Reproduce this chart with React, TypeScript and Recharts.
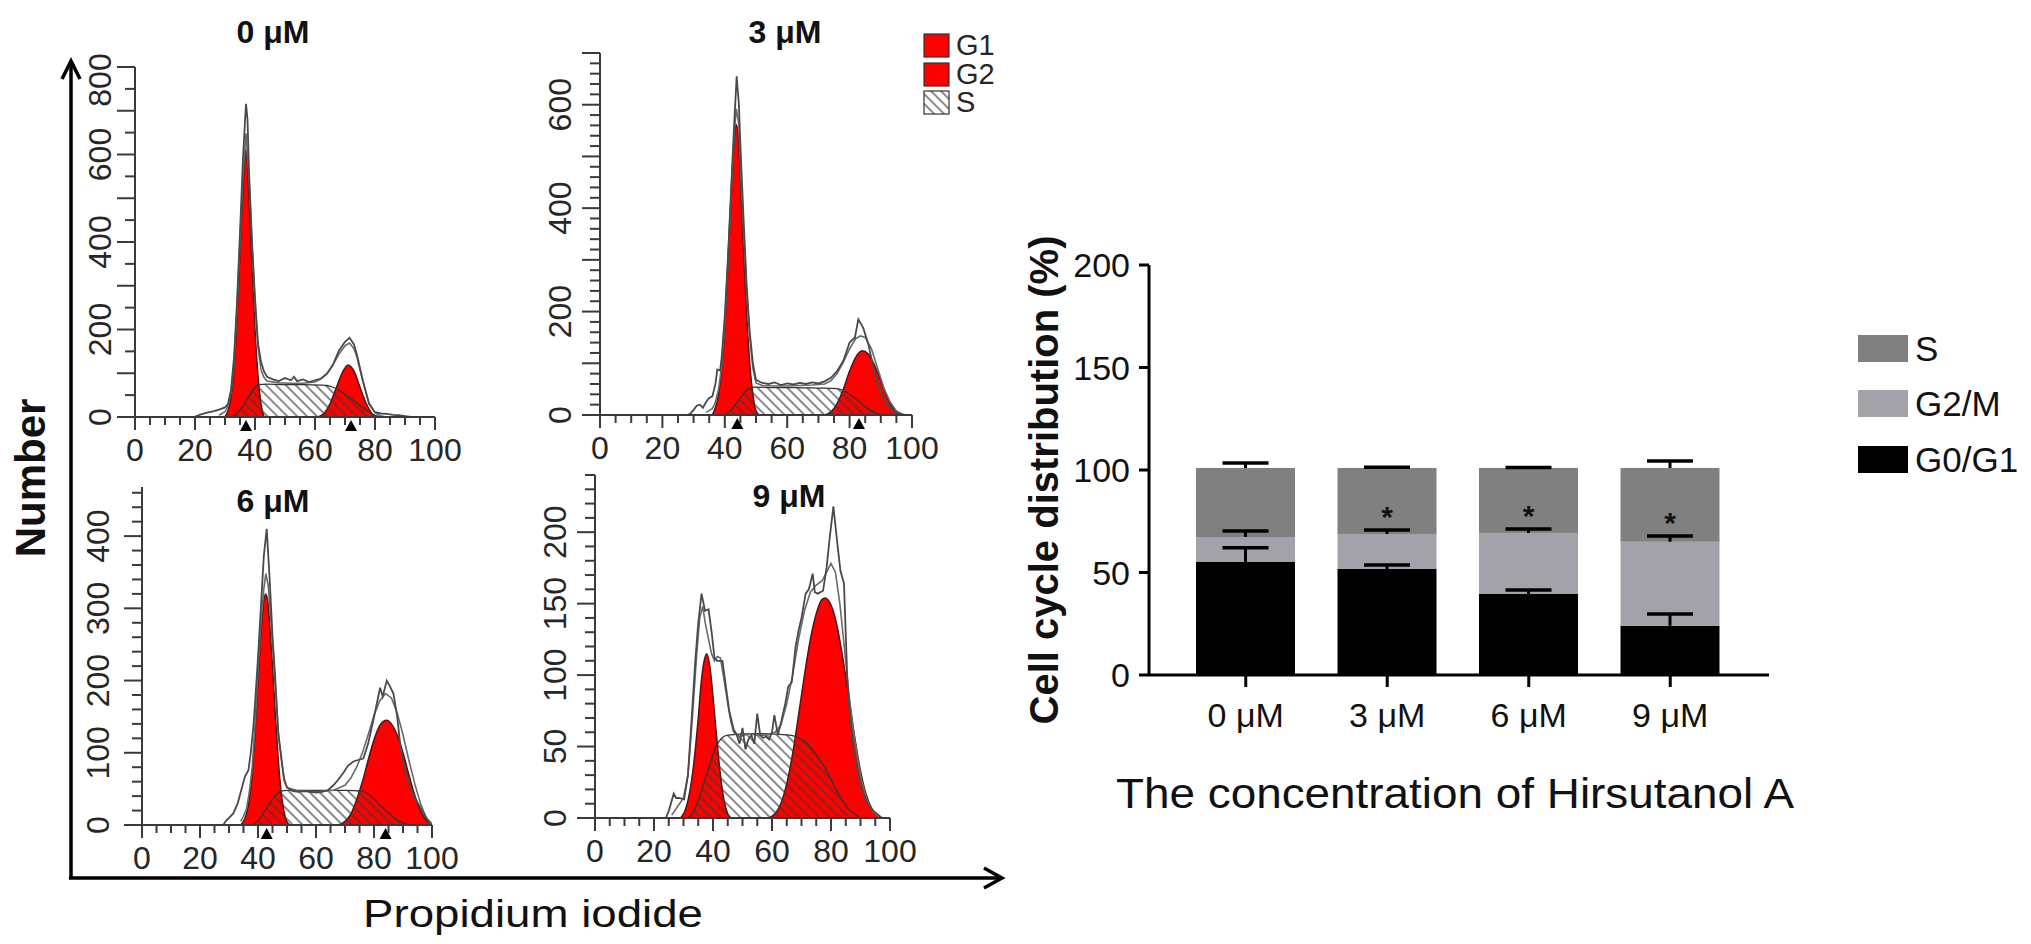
import React from 'react';
import { ComposedChart, Area, Line, XAxis, YAxis, ReferenceDot, Legend, BarChart, Bar } from 'recharts';

type Pt = [number, number];

const FONT = '"Liberation Sans", Arial, Helvetica, sans-serif';
const RED = '#ff0000';
const RED_EDGE = '#5a1010';
const AX = '#3a3a3a';
const TXT = '#262626';

// ---------- histograms (PI fluorescence) ----------
const doses = ['0 μM', '3 μM', '6 μM', '9 μM'];
const histXTicks = [0, 5, 10, 15, 20, 25, 30, 35, 40, 45, 50, 55, 60, 65, 70, 75, 80, 85, 90, 95, 100];
const histXLabels = [0, 20, 40, 60, 80, 100];
const phaseNames = ['G1', 'G2', 'S'];

const yLabels0 = [0, 200, 400, 600, 800];
const yLabels3 = [0, 200, 400, 600];
const yLabels6 = [0, 100, 200, 300, 400];
const yLabels9 = [0, 50, 100, 150, 200];

// 0 uM
const raw0: Pt[] = [[20, 1], [22, 6], [24, 10], [26, 13], [28, 17], [30, 22], [31, 30], [32, 62], [33, 135], [34, 262], [35, 422], [36, 592], [37, 716], [37.5, 680], [38, 562], [39, 402], [40, 272], [41, 168], [42, 126], [43, 104], [44, 92], [46, 86], [48, 82], [50, 89], [52, 84], [53, 92], [54, 82], [56, 86], [58, 80], [60, 84], [62, 88], [64, 99], [66, 120], [68, 152], [70, 172], [71.5, 181], [73, 166], [74, 142], [76, 82], [78, 30], [80, 11], [82, 8], [84, 7], [86, 5], [88, 4], [90, 2], [92, 0]];
const fit0: Pt[] = [[28, 4], [30, 12], [31, 25], [32, 56], [33, 122], [34, 246], [35, 402], [36, 552], [37, 648], [38, 545], [39, 392], [40, 262], [41, 160], [42, 108], [43, 90], [44, 82], [48, 78], [52, 77], [56, 77], [60, 80], [62, 87], [64, 99], [66, 119], [68, 144], [70, 163], [71.5, 169], [73, 156], [74, 136], [76, 80], [78, 32], [80, 10], [82, 2], [84, 0]];
const g1_0: Pt[] = [[30, 0], [31, 15], [32, 45], [33, 110], [34, 230], [35, 380], [36, 520], [37, 612], [38, 500], [39, 340], [40, 200], [41, 95], [42, 30], [43, 0]];
const g2_0: Pt[] = [[61, 0], [63, 8], [65, 30], [67, 65], [69, 100], [71, 119], [73, 105], [75, 68], [77, 32], [79, 8], [81, 0]];
const s0: Pt[] = [[32, 0], [34, 8], [36, 25], [38, 48], [40, 68], [41, 74], [44, 75], [50, 74], [56, 74], [62, 73], [64, 72], [66, 68], [68, 61], [70, 52], [72, 42], [74, 32], [76, 21], [78, 11], [80, 4], [82, 0]];
const peaks0 = [37, 72];

// 3 uM
const raw3: Pt[] = [[28, 0], [29, 3], [30, 10], [31, 18], [32, 20], [33, 14], [34, 25], [35, 33], [36, 36], [37, 60], [37.6, 88], [38.5, 86], [39, 112], [40, 192], [41, 302], [42, 432], [43, 562], [43.8, 655], [44.5, 602], [45, 522], [46, 382], [47, 252], [48, 160], [49, 100], [50, 68], [52, 62], [54, 60], [56, 63], [58, 58], [60, 61], [62, 59], [64, 62], [66, 60], [68, 63], [70, 61], [72, 65], [74, 72], [76, 85], [78, 105], [80, 140], [81.7, 150], [82.8, 185], [84.4, 168], [86, 137], [87.6, 92], [89.7, 48], [91.9, 22], [94.6, 6], [97, 1], [98, 0]];
const fit3: Pt[] = [[34, 5], [36, 12], [37, 25], [38, 50], [39, 95], [40, 178], [41, 298], [42, 428], [43, 545], [43.7, 592], [44.5, 562], [45, 482], [46, 357], [47, 237], [48, 150], [49, 90], [50, 62], [52, 57], [56, 56], [60, 56], [64, 57], [68, 58], [72, 60], [74, 66], [76, 80], [78, 102], [80, 128], [82, 148], [83.5, 153], [85, 150], [87, 128], [89, 90], [91, 52], [93, 25], [95, 8], [97, 1], [98, 0]];
const g1_3: Pt[] = [[36, 0], [37, 15], [38, 40], [39, 90], [40, 170], [41, 290], [42, 420], [43, 530], [43.6, 562], [44.3, 540], [45, 450], [46, 320], [47, 195], [48, 100], [49, 40], [50, 8], [51, 0]];
const g2_3: Pt[] = [[72, 0], [74, 6], [76, 22], [78, 50], [80, 85], [82, 112], [84, 124], [86, 118], [88, 96], [90, 66], [92, 35], [94, 12], [96, 0]];
const s3: Pt[] = [[40, 0], [42, 9], [44, 25], [46, 41], [48, 52], [50, 54], [56, 53], [62, 53], [70, 52], [76, 51], [78, 47], [80, 40], [82, 31], [84, 21], [86, 12], [88, 5], [90, 1], [91, 0]];
const peaks3 = [44, 83];

// 6 uM
const raw6: Pt[] = [[28, 0], [29, 6], [30, 10], [31.5, 16], [33, 30], [34, 45], [35.5, 67], [36.7, 76], [37.5, 100], [38.4, 136], [39, 170], [40, 232], [41, 302], [42, 372], [43, 410], [44, 342], [45, 262], [46, 200], [47, 125], [48, 95], [49, 62], [50, 52], [52, 47], [54, 46], [56, 47], [58, 46], [60, 45], [62, 46], [64, 48], [66, 55], [67.5, 62], [69.4, 72], [71, 82], [72.9, 88], [74.5, 90], [76.3, 92], [78, 113], [80.3, 155], [82.1, 190], [83, 178], [84.4, 200], [85.5, 192], [86.7, 182], [88, 150], [89, 113], [90.5, 80], [91.8, 62], [94, 38], [95.9, 25], [98, 10], [99.3, 2], [100, 0]];
const fit6: Pt[] = [[34, 5], [35, 12], [36, 22], [37, 45], [38, 80], [39, 140], [40, 212], [41, 278], [42, 327], [42.7, 348], [43.5, 332], [44, 310], [45, 250], [46, 190], [47, 130], [48, 92], [49, 65], [50, 52], [54, 47], [60, 46], [66, 48], [70, 55], [72, 65], [74, 80], [76, 100], [78, 125], [80, 152], [82, 172], [84, 182], [86, 176], [88, 155], [90, 125], [92, 90], [94, 58], [96, 30], [98, 10], [100, 2]];
const g1_6: Pt[] = [[34, 0], [35, 5], [36, 15], [37, 35], [38, 70], [39, 130], [40, 200], [41, 265], [42, 310], [42.6, 320], [43.3, 312], [44, 280], [45, 220], [46, 150], [47, 90], [48, 45], [49, 18], [50, 4], [51, 0]];
const g2_6: Pt[] = [[68, 0], [70, 5], [72, 15], [74, 35], [76, 60], [78, 90], [80, 118], [82, 138], [84.4, 145], [86, 140], [88, 125], [90, 100], [92, 70], [94, 42], [96, 20], [98, 7], [100, 0]];
const s6: Pt[] = [[38, 0], [40, 6], [42, 17], [44, 30], [46, 41], [48, 47], [50, 48], [60, 48], [70, 48], [76, 47], [78, 43], [80, 36], [82, 28], [84, 20], [86, 13], [88, 7], [90, 3], [92, 0]];
const peaks6 = [43, 84];

// 9 uM
const raw9: Pt[] = [[24, 0], [25, 5], [26.7, 17], [27.5, 14], [28.5, 14], [30.2, 13], [31.5, 30], [32.6, 64], [34, 110], [34.9, 134], [36.1, 157], [37.3, 145], [38.5, 146], [39.6, 129], [40.5, 112], [41.4, 110], [43.2, 110], [44.5, 90], [45.5, 75], [47, 62], [47.9, 59], [49, 52], [50, 63], [51, 48], [52, 55], [53, 58], [54, 52], [55, 73], [56, 58], [57, 56], [58, 57], [59, 55], [60, 60], [60.8, 72], [62, 58], [63.2, 68], [64.5, 80], [65.5, 92], [66.7, 95], [68, 120], [69, 131], [70, 140], [71.4, 157], [72.5, 160], [73.8, 171], [74.5, 158], [75.5, 157], [77.3, 159], [78.5, 175], [79.5, 195], [80.8, 218], [82, 195], [83.2, 173], [84.4, 164], [85.5, 99], [86.5, 70], [87.9, 45], [90.2, 22], [92, 12], [93.8, 6], [95.5, 3], [97.3, 0]];
const fit9: Pt[] = [[26, 2], [28, 8], [30, 14], [31.5, 30], [33, 70], [34.5, 115], [35.5, 140], [36.5, 148], [37.5, 135], [38.5, 125], [39.5, 115], [40.5, 110], [41.5, 113], [42.5, 112], [43.5, 100], [45, 80], [46, 68], [47, 60], [49, 57], [52, 59], [55, 58], [58, 58], [61, 60], [63, 65], [65, 80], [67, 100], [69, 125], [71, 145], [73, 158], [75, 163], [77, 166], [78.5, 172], [80, 178], [81.5, 172], [83, 150], [84.5, 120], [86, 88], [88, 55], [90, 30], [92, 14], [94, 5], [96, 1], [97, 0]];
const g1_9: Pt[] = [[29, 0], [31, 8], [33, 30], [35, 70], [36, 95], [37, 110], [37.9, 115], [39, 105], [40, 85], [41, 62], [42, 40], [43, 22], [44, 10], [45, 3], [46, 0]];
const g2_9: Pt[] = [[59, 0], [61, 3], [63, 10], [65, 24], [67, 45], [69, 72], [71, 100], [73, 125], [75, 143], [77, 153], [78, 154], [80, 149], [82, 135], [84, 112], [86, 85], [88, 57], [90, 33], [92, 16], [94, 6], [96, 1], [97, 0]];
const s9: Pt[] = [[31, 0], [33, 3], [35, 12], [37, 25], [39, 38], [41, 50], [43, 56], [45, 58], [55, 59], [66, 58], [68, 57], [70, 55], [72, 52], [74, 47], [76, 41], [78, 35], [80, 27], [82, 19], [84, 12], [86, 6], [88, 3], [90, 0]];
const peaks9: number[] = [];

// ---------- stacked bar chart ----------
const concs = ['0 μM', '3 μM', '6 μM', '9 μM'];
const stageNames = ['G0/G1', 'G2/M', 'S'];
const stageColors = ['#000000', '#a2a2a8', '#808080'];
const g01 = [55.1, 51.7, 39.5, 24.0];
const g2m = [12.2, 17.1, 29.8, 41.0];
const sPhase = [33.7, 32.2, 31.7, 36.0];
const g01Err = [7.0, 1.9, 2.0, 5.8];
const g2mErr = [2.9, 1.9, 1.9, 2.8];
const sErr = [2.4, 0.3, 0.2, 3.4];
const sig = ['', '*', '*', '*'];
const barYTicks = [0, 50, 100, 150, 200];

interface Panel {
  title: string;
  plotLeft: number;
  plotTop: number;
  plotW: number;
  plotH: number;
  padRight: number;
  yMax: number;
  yStep: number;
  yLong: number;
  yLabels: number[];
  labelGap: number;
  titleX: number;
  titleY: number;
  series: Record<string, Pt[]>;
  peaks: number[];
  legend: boolean;
}

const panels: Panel[] = [
  { title: doses[0], plotLeft: 135, plotTop: 67, plotW: 300, plotH: 350, padRight: 30, yMax: 800, yStep: 50, yLong: 100, yLabels: yLabels0, labelGap: 35, titleX: 273, titleY: 43, series: { raw: raw0, fit: fit0, g1: g1_0, g2: g2_0, s: s0 }, peaks: peaks0, legend: false },
  { title: doses[1], plotLeft: 600, plotTop: 53, plotW: 312, plotH: 362, padRight: 95, yMax: 700, yStep: 20, yLong: 100, yLabels: yLabels3, labelGap: 40, titleX: 785, titleY: 43, series: { raw: raw3, fit: fit3, g1: g1_3, g2: g2_3, s: s3 }, peaks: peaks3, legend: true },
  { title: doses[2], plotLeft: 142, plotTop: 487, plotW: 290, plotH: 338, padRight: 30, yMax: 468, yStep: 20, yLong: 100, yLabels: yLabels6, labelGap: 44, titleX: 273, titleY: 512, series: { raw: raw6, fit: fit6, g1: g1_6, g2: g2_6, s: s6 }, peaks: peaks6, legend: false },
  { title: doses[3], plotLeft: 595, plotTop: 475, plotW: 295, plotH: 343, padRight: 30, yMax: 240, yStep: 10, yLong: 50, yLabels: yLabels9, labelGap: 40, titleX: 789, titleY: 507, series: { raw: raw9, fit: fit9, g1: g1_9, g2: g2_9, s: s9 }, peaks: peaks9, legend: false },
];

function mergeSeries(series: Record<string, Pt[]>) {
  const map = new Map<number, Record<string, number>>();
  Object.entries(series).forEach(([key, pts]) =>
    pts.forEach(([x, v]) => {
      const row = map.get(x) ?? { x };
      row[key] = v;
      map.set(x, row);
    })
  );
  return [...map.values()].sort((a, b) => a.x - b.x);
}

function XTick(props: any) {
  const { x, y, payload } = props;
  const v = payload.value;
  const major = histXLabels.includes(v);
  return (
    <g>
      <line x1={x} x2={x} y1={y} y2={y + (major ? 13 : 8)} stroke={AX} strokeWidth={2} />
      {major && (
        <text x={x} y={y + 44} textAnchor="middle" fontSize={32} fill={TXT} fontFamily={FONT}>
          {v}
        </text>
      )}
    </g>
  );
}

function YTick(props: any) {
  const { x, y, payload, p } = props;
  const v = payload.value;
  const isLong = v % p.yLong === 0;
  const show = p.yLabels.includes(v);
  const cy = v === p.yMax ? y + 13 : y;
  const bx = x - p.labelGap + 11;
  return (
    <g>
      <line x1={x} x2={x - (isLong ? 18 : 10)} y1={y} y2={y} stroke={AX} strokeWidth={2} />
      {show && (
        <text x={bx} y={cy} transform={`rotate(-90 ${bx} ${cy})`} textAnchor="middle" fontSize={32} fill={TXT} fontFamily={FONT}>
          {v}
        </text>
      )}
    </g>
  );
}

function PhaseLegend({ hatch }: { hatch: string }) {
  const rows = [8, 37, 65];
  return (
    <svg width={90} height={100}>
      {phaseNames.map((name, i) => (
        <g key={name}>
          <rect x={1} y={rows[i] + 1} width={25} height={23} fill={name === 'S' ? `url(#${hatch})` : RED} stroke="#333" strokeWidth={1.2} />
          <text x={33} y={rows[i] + 22} fontSize={29} fill={TXT} fontFamily={FONT}>
            {name}
          </text>
        </g>
      ))}
    </svg>
  );
}

function HistPanel({ p, id }: { p: Panel; id: string }) {
  const rows = mergeSeries(p.series);
  const yTicks = Array.from({ length: Math.floor(p.yMax / p.yStep) + 1 }, (_, i) => i * p.yStep);
  const W = p.plotW + 70 + p.padRight;
  const H = p.plotH + 90;
  return (
    <div style={{ position: 'absolute', left: p.plotLeft - 70, top: p.plotTop - 30 }}>
      <ComposedChart width={W} height={H} data={rows} margin={{ top: 30, right: p.padRight, left: 0, bottom: 0 }}>
        <defs>
          <pattern id={id} patternUnits="userSpaceOnUse" width={7} height={7} patternTransform="rotate(-45)">
            <line x1={1} y1={0} x2={1} y2={7} stroke="#3a3a3a" strokeWidth={1.2} />
          </pattern>
        </defs>
        <XAxis
          type="number"
          dataKey="x"
          domain={[0, 100]}
          ticks={histXTicks}
          interval={0}
          height={60}
          tickSize={0}
          tickMargin={0}
          tickLine={false}
          axisLine={{ stroke: AX, strokeWidth: 2 }}
          tick={(t: any) => <XTick {...t} />}
          allowDataOverflow
        />
        <YAxis
          type="number"
          domain={[0, p.yMax]}
          ticks={yTicks}
          interval={0}
          width={70}
          tickSize={0}
          tickMargin={0}
          tickLine={false}
          axisLine={{ stroke: AX, strokeWidth: 2 }}
          tick={(t: any) => <YTick {...t} p={p} />}
          allowDataOverflow
        />
        <Area dataKey="g1" name="G1" type="monotone" connectNulls fill={RED} fillOpacity={1} stroke={RED_EDGE} strokeWidth={1.5} activeDot={false} isAnimationActive={false} />
        <Area dataKey="g2" name="G2" type="monotone" connectNulls fill={RED} fillOpacity={1} stroke={RED_EDGE} strokeWidth={1.5} activeDot={false} isAnimationActive={false} />
        <Area dataKey="s" name="S" type="monotone" connectNulls fill={`url(#${id})`} fillOpacity={1} stroke="#333" strokeWidth={1.3} activeDot={false} isAnimationActive={false} />
        <Line dataKey="fit" type="linear" connectNulls dot={false} activeDot={false} stroke="#6a6a6a" strokeWidth={1.6} legendType="none" isAnimationActive={false} />
        <Line dataKey="raw" type="linear" connectNulls dot={false} activeDot={false} stroke="#4a4a4a" strokeWidth={1.8} legendType="none" isAnimationActive={false} />
        {p.peaks.map((px) => (
          <ReferenceDot
            key={px}
            x={px}
            y={0}
            r={0}
            ifOverflow="visible"
            shape={(d: any) => <polygon points={`${d.cx - 6},${d.cy + 14} ${d.cx + 6},${d.cy + 14} ${d.cx},${d.cy + 3}`} fill="#000" />}
          />
        ))}
        {p.legend && (
          <Legend
            layout="horizontal"
            verticalAlign="middle"
            align="center"
            wrapperStyle={{ left: p.plotW + 70 + 11, top: 2, width: 90, height: 100 }}
            content={() => <PhaseLegend hatch={id} />}
          />
        )}
      </ComposedChart>
    </div>
  );
}

function SBar(props: any) {
  const { x, y, width, height, fill } = props;
  const d = props.payload ?? props;
  const base = d.g01 + d.g2m;
  const k = height / d.s;
  const yAt = (v: number) => y + height - (v - base) * k;
  const cx = x + width / 2;
  const errs: [number, number][] = [
    [d.g01, d.e1],
    [base, d.e2],
    [base + d.s, d.e3],
  ];
  return (
    <g>
      <rect x={x} y={y} width={width} height={height} fill={fill} />
      {errs.map(([v, e], i) => {
        const y1 = yAt(v);
        const y2 = yAt(v + e);
        return (
          <g key={i}>
            <line x1={cx} x2={cx} y1={y1} y2={y2} stroke="#000" strokeWidth={3} />
            <line x1={cx - 23} x2={cx + 23} y1={y2} y2={y2} stroke="#000" strokeWidth={3.5} />
          </g>
        );
      })}
      {d.sig && (
        <text x={cx} y={yAt(base + d.e2) - 3} textAnchor="middle" fontSize={30} fontWeight="bold" fill="#111" fontFamily={FONT}>
          {d.sig}
        </text>
      )}
    </g>
  );
}

function StageLegend() {
  const rows = [12, 67, 123];
  const order = [2, 1, 0];
  return (
    <svg width={173} height={168}>
      {order.map((si, i) => (
        <g key={stageNames[si]}>
          <rect x={0} y={rows[i]} width={50} height={27} fill={stageColors[si]} />
          <text x={57} y={rows[i] + 26} fontSize={35} fill="#111" fontFamily={FONT}>
            {stageNames[si]}
          </text>
        </g>
      ))}
    </svg>
  );
}

function CyclePanel() {
  const rows = concs.map((c, i) => ({
    conc: c,
    g01: g01[i],
    g2m: g2m[i],
    s: sPhase[i],
    e1: g01Err[i],
    e2: g2mErr[i],
    e3: sErr[i],
    sig: sig[i],
  }));
  return (
    <div style={{ position: 'absolute', left: 1000, top: 230 }}>
      <BarChart width={1031} height={600} data={rows} margin={{ top: 35, right: 262, left: 0, bottom: 0 }} barSize={99}>
        <XAxis
          dataKey="conc"
          padding={{ left: 26, right: 28 }}
          height={155}
          interval={0}
          axisLine={{ stroke: '#000', strokeWidth: 3 }}
          tickLine={{ stroke: '#000', strokeWidth: 3 }}
          tickSize={12}
          tickMargin={16}
          tick={{ fontSize: 34, fill: '#111', fontFamily: FONT }}
        />
        <YAxis
          domain={[0, 200]}
          ticks={barYTicks}
          interval={0}
          width={149}
          axisLine={{ stroke: '#000', strokeWidth: 3 }}
          tickLine={{ stroke: '#000', strokeWidth: 3 }}
          tickSize={10}
          tickMargin={9}
          tick={{ fontSize: 34, fill: '#111', fontFamily: FONT }}
        />
        <Bar dataKey="g01" name={stageNames[0]} stackId="a" fill={stageColors[0]} isAnimationActive={false} />
        <Bar dataKey="g2m" name={stageNames[1]} stackId="a" fill={stageColors[1]} isAnimationActive={false} />
        <Bar dataKey="s" name={stageNames[2]} stackId="a" fill={stageColors[2]} isAnimationActive={false} shape={(b: any) => <SBar {...b} />} />
        <Legend
          layout="horizontal"
          verticalAlign="middle"
          align="center"
          wrapperStyle={{ left: 858, top: 93, width: 173, height: 168 }}
          content={() => <StageLegend />}
        />
      </BarChart>
    </div>
  );
}

function Overlay() {
  return (
    <svg width={2031} height={944} style={{ position: 'absolute', left: 0, top: 0, pointerEvents: 'none' }} fontFamily={FONT}>
      {panels.map((p) => (
        <text key={p.title} x={p.titleX} y={p.titleY} textAnchor="middle" fontSize={32} fontWeight="bold" fill="#111">
          {p.title}
        </text>
      ))}
      <text x={45} y={478} transform="rotate(-90 45 478)" textAnchor="middle" fontSize={42} fontWeight="bold" fill="#111">
        Number
      </text>
      <line x1={71} y1={879} x2={71} y2={62} stroke="#000" strokeWidth={3.5} />
      <polyline points="62,79 71,61 80,79" fill="none" stroke="#000" strokeWidth={3.5} />
      <line x1={69} y1={878} x2={1001} y2={878} stroke="#000" strokeWidth={3.5} />
      <polyline points="984,868 1002,878 984,888" fill="none" stroke="#000" strokeWidth={3.5} />
      <text x={533} y={927} textAnchor="middle" fontSize={39} fill="#111" textLength={340} lengthAdjust="spacingAndGlyphs">
        Propidium iodide
      </text>
      <text x={1058} y={480} transform="rotate(-90 1058 480)" textAnchor="middle" fontSize={40} fontWeight="bold" fill="#111">
        Cell cycle distribution (%)
      </text>
      <text x={1455} y={808} textAnchor="middle" fontSize={42} fill="#111" textLength={678} lengthAdjust="spacingAndGlyphs">
        The concentration of Hirsutanol A
      </text>
    </svg>
  );
}

export default function App() {
  return (
    <div style={{ position: 'absolute', left: 0, top: 0, width: 2031, height: 944, background: '#fff', fontFamily: FONT, overflow: 'hidden' }}>
      {panels.map((p, i) => (
        <HistPanel key={p.title} p={p} id={`hatch${i}`} />
      ))}
      <CyclePanel />
      <Overlay />
    </div>
  );
}
